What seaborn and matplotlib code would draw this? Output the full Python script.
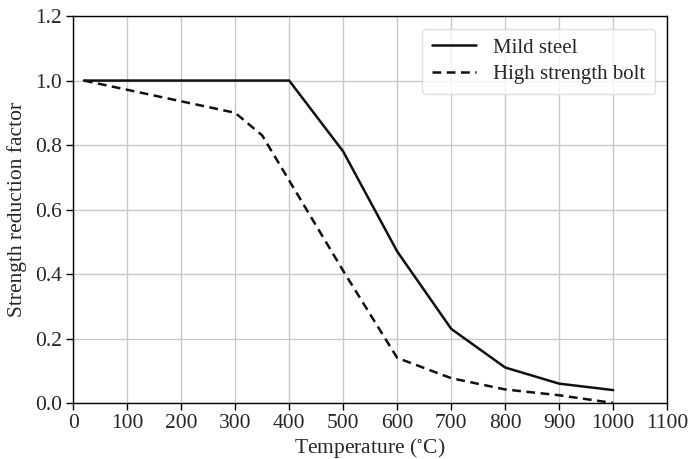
import numpy as np
import pandas as pd
import matplotlib
matplotlib.use("Agg")
import matplotlib.pyplot as plt
import seaborn as sns

steel_temp = [20, 100, 200, 300, 400, 500, 600, 700, 800, 900, 1000]
steel_factor = [1.0, 1.0, 1.0, 1.0, 1.0, 0.78, 0.47, 0.23, 0.11, 0.06, 0.04]
bolt_temp = [20, 300, 350, 400, 500, 600, 700, 800, 900, 1000]
bolt_factor = [1.0, 0.90, 0.83, 0.69, 0.41, 0.14, 0.077, 0.042, 0.024, 0.0]
series_names = ["Mild steel", "High strength bolt"]

df = pd.concat([
    pd.DataFrame({"T": steel_temp, "k": steel_factor, "s": series_names[0]}),
    pd.DataFrame({"T": bolt_temp, "k": bolt_factor, "s": series_names[1]}),
], ignore_index=True)

sns.set_theme(style="ticks")
plt.rcParams["font.family"] = ["Liberation Serif", "DejaVu Serif"]
plt.rcParams["mathtext.fontset"] = "stix"

fig = plt.figure(figsize=(6.9, 4.59), dpi=100)
ax = fig.add_axes([0.106, 0.122, 0.861, 0.843])

sns.lineplot(data=df, x="T", y="k", style="s", style_order=series_names,
             dashes={series_names[0]: "", series_names[1]: (3.5, 2.2)},
             color="#111111", linewidth=1.8, ax=ax, sort=False)

ax.set_xlim(0, 1100)
ax.set_ylim(0, 1.2)
ax.set_xticks(np.arange(0, 1101, 100))
ax.set_yticks(np.arange(0, 1.21, 0.2))
ax.set_yticklabels([f"{v:.1f}" for v in np.arange(0, 1.21, 0.2)])
ax.grid(True, color="#c8c8c8", linewidth=1.0)
ax.set_axisbelow(True)
ax.tick_params(labelsize=15.5, length=5, width=1.0, color="black", direction="out", pad=3)
for sp in ax.spines.values():
    sp.set_color("black")
    sp.set_linewidth(1.0)
ax.set_xlabel("Temperature ($^{\\circ}$C)", fontsize=15.5, labelpad=2)
ax.set_ylabel("Strength reduction factor", fontsize=15.5, labelpad=6)
leg = ax.legend(loc="upper right", fontsize=15, frameon=True, fancybox=True,
                handlelength=2.15, handletextpad=0.8, borderpad=0.45,
                labelspacing=0.35, borderaxespad=0.6)
leg.get_frame().set_edgecolor("#d8d8d8")
leg.set_title(None)

fig.savefig("out.png", dpi=100)
